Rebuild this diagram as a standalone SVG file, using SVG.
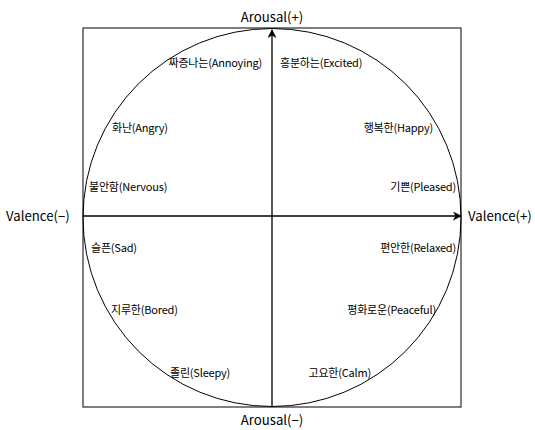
<svg xmlns="http://www.w3.org/2000/svg" width="535" height="430" viewBox="0 0 535 430">
<defs>
<style>
text{font-family:"Noto Sans CJK KR","Noto Sans",sans-serif;fill:#000}
.ax{font-size:13.2px}
.lb{font-size:11px;letter-spacing:-0.2px}
.ln{stroke:#000;stroke-width:1.3;fill:none}
</style>
<marker id="ah" viewBox="0 0 10 10" refX="9" refY="5" markerWidth="9" markerHeight="9" markerUnits="userSpaceOnUse" orient="auto">
<path d="M0,0 L10,5 L0,10 L3,5 Z" fill="#000"/>
</marker>
</defs>
<rect x="0" y="0" width="535" height="430" fill="#fff"/>
<g id="frame">
<rect x="83" y="28" width="378" height="379" fill="none" stroke="#000" stroke-width="1"/>
<circle cx="272" cy="217.5" r="189" fill="none" stroke="#000" stroke-width="1"/>
</g>
<g id="connectors">
<line class="ln" x1="272" y1="407" x2="272" y2="30" marker-end="url(#ah)"/>
<line class="ln" x1="83" y1="216" x2="461" y2="216" marker-end="url(#ah)"/>
</g>
<g id="axis-labels">
<text class="ax" x="272" y="22" text-anchor="middle">Arousal(+)</text>
<text class="ax" x="272" y="425" text-anchor="middle">Arousal(−)</text>
<text class="ax" x="6" y="221">Valence(−)</text>
<text class="ax" x="468" y="221">Valence(+)</text>
</g>
<g id="emotions">
<text class="lb" x="262" y="67" text-anchor="end">짜증나는(Annoying)</text>
<text class="lb" x="280" y="67">흥분하는(Excited)</text>
<text class="lb" x="112" y="132">화난(Angry)</text>
<text class="lb" x="433" y="132" text-anchor="end">행복한(Happy)</text>
<text class="lb" x="89" y="191">불안함(Nervous)</text>
<text class="lb" x="456" y="191" text-anchor="end">기쁜(Pleased)</text>
<text class="lb" x="91" y="252">슬픈(Sad)</text>
<text class="lb" x="456" y="252" text-anchor="end">편안한(Relaxed)</text>
<text class="lb" x="111" y="314">지루한(Bored)</text>
<text class="lb" x="436" y="314" text-anchor="end">평화로운(Peaceful)</text>
<text class="lb" x="170" y="377">졸린(Sleepy)</text>
<text class="lb" x="371" y="377" text-anchor="end">고요한(Calm)</text>
</g>
</svg>
